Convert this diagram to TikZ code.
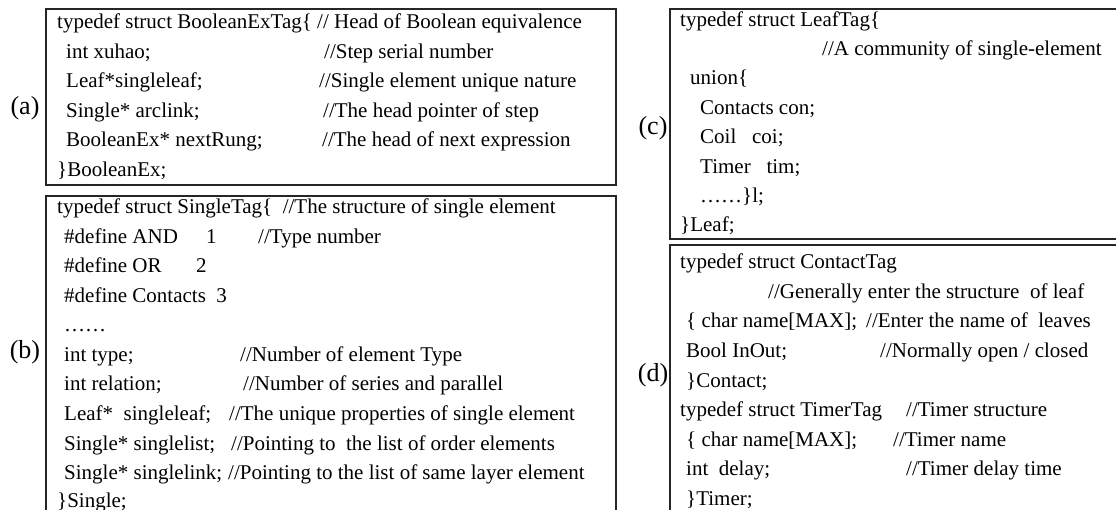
\documentclass[tikz,border=0pt]{standalone}
\usepackage{fontspec}
\setmainfont{Liberation Serif}
\usetikzlibrary{positioning}

\begin{document}
\begin{tikzpicture}[x=1pt,y=-1pt]
\tikzstyle{every node}+=[inner sep=0pt]
\tikzstyle{code}=[anchor=base west,font=\fontsize{21}{25}\selectfont]
\tikzstyle{tag}=[font=\fontsize{26}{30}\selectfont]
\tikzstyle{frame}=[line width=1.2pt,black!85]
\useasboundingbox (0,0) rectangle (1116,510);
% (a) head of Boolean expression
\draw [frame] (46,9) rectangle (616,185);
\node [tag] (la) at (25,108) {(a)};
\node [code] (a1) at (57,29) {typedef struct BooleanExTag\{ // Head of Boolean equivalence};
\node [code] (a2) at (66,58.5) {int xuhao;};
\node [code] (a2c) at (324,58.5) {//Step serial number};
\node [code] (a3) at (66,88) {Leaf*singleleaf;};
\node [code] (a3c) at (319,88) {//Single element unique nature};
\node [code] (a4) at (66,117.5) {Single* arclink;};
\node [code] (a4c) at (323,117.5) {//The head pointer of step};
\node [code] (a5) at (66,147) {BooleanEx* nextRung;};
\node [code] (a5c) at (322,147) {//The head of next expression};
\node [code] (a6) at (57,176.5) {\}BooleanEx;};
% (b) single element
\draw [frame] (46,512) -- (46,196) -- (616,196) -- (616,512);
\node [tag] (lb) at (25,352) {(b)};
\node [code] (b1) at (57,214) {typedef struct SingleTag\{\ \ //The structure of single element};
\node [code] (b2) at (64,243.5) {\#define AND};
\node [code] (b2n) at (206,243.5) {1};
\node [code] (b2c) at (258,243.5) {//Type number};
\node [code] (b3) at (64,273) {\#define OR};
\node [code] (b3n) at (196,273) {2};
\node [code] (b4) at (64,302.5) {\#define Contacts\ \ 3};
\node [code] (b5) at (64,332) {……};
\node [code] (b6) at (64,361.5) {int type;};
\node [code] (b6c) at (240,361.5) {//Number of element Type};
\node [code] (b7) at (64,391) {int relation;};
\node [code] (b7c) at (243,391) {//Number of series and parallel};
\node [code] (b8) at (64,420.5) {Leaf*\ \ singleleaf;};
\node [code] (b8c) at (229,420.5) {//The unique properties of single element};
\node [code] (b9) at (64,450) {Single* singlelist;};
\node [code] (b9c) at (231,450) {//Pointing to\ \ the list of order elements};
\node [code] (b10) at (64,479.5) {Single* singlelink;};
\node [code] (b10c) at (228,479.5) {//Pointing to the list of same layer element};
\node [code] (b11) at (57,507) {\}Single;};
% (c) leaf
\draw [frame] (1120,239) -- (670,239) -- (670,9) -- (1120,9);
\node [tag] (lc) at (653,128) {(c)};
\node [code] (c1) at (680,27) {typedef struct LeafTag\{};
\node [code] (c2) at (822,56) {//A community of single-element};
\node [code] (c3) at (690,85) {union\{};
\node [code] (c4) at (700,114.5) {Contacts con;};
\node [code] (c5) at (700,144) {Coil\ \ \ coi;};
\node [code] (c6) at (700,173.5) {Timer\ \ \ tim;};
\node [code] (c7) at (700,203) {……\}l;};
\node [code] (c8) at (680,232) {\}Leaf;};
% (d) contact and timer
\draw [frame] (1120,245) -- (670,245) -- (670,512);
\node [tag] (ld) at (653,375) {(d)};
\node [code] (d1) at (680,269) {typedef struct ContactTag};
\node [code] (d2) at (768,298.5) {//Generally enter the structure\ \ of leaf};
\node [code] (d3) at (686,328) {\{ char name[MAX];};
\node [code] (d3c) at (866,328) {//Enter the name of\ \ leaves};
\node [code] (d4) at (686,357.5) {Bool InOut;};
\node [code] (d4c) at (880,357.5) {//Normally open / closed};
\node [code] (d5) at (686,387) {\}Contact;};
\node [code] (d6) at (680,416.5) {typedef struct TimerTag};
\node [code] (d6c) at (906,416.5) {//Timer structure};
\node [code] (d7) at (686,446) {\{ char name[MAX];};
\node [code] (d7c) at (893,446) {//Timer name};
\node [code] (d8) at (686,475.5) {int\ \ delay;};
\node [code] (d8c) at (906,475.5) {//Timer delay time};
\node [code] (d9) at (686,505) {\}Timer;};
\end{tikzpicture}
\end{document}
